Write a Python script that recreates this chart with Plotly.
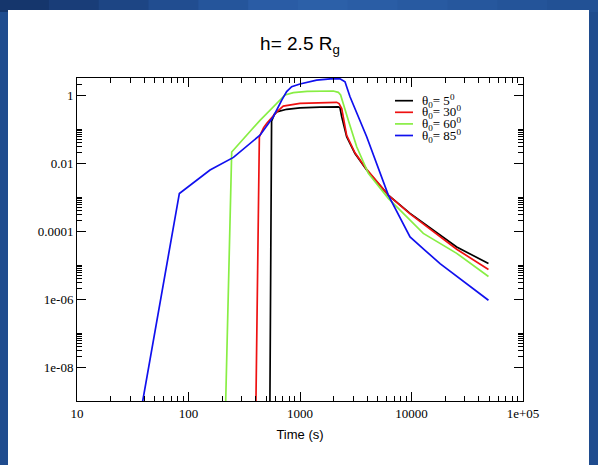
import plotly.graph_objects as go

# ---- data ----
t_5 = [535, 556, 589, 619, 760, 1000, 1515, 2205, 2283, 2367, 2621, 3112, 3964, 6194, 9703, 15700, 25440, 49000]
f_5 = [1e-10, 0.17, 0.27, 0.32, 0.38, 0.42, 0.44, 0.45, 0.42, 0.23, 0.059, 0.019, 6.2e-3, 1.14e-3, 3.3e-4, 1.06e-4, 3.4e-5, 1.1e-5]

t_30 = [399, 432, 472, 504, 619, 708, 1000, 1515, 2132, 2240, 2367, 2621, 3112, 3964, 6194, 9703, 15700, 25440, 49000]
f_30 = [1e-10, 0.059, 0.11, 0.147, 0.32, 0.47, 0.57, 0.60, 0.61, 0.56, 0.40, 0.065, 0.02, 6.5e-3, 1.14e-3, 3.2e-4, 9.5e-5, 2.9e-5, 7.4e-6]

t_60 = [212, 244, 438, 734, 872, 1156, 1990, 2205, 2313, 2447, 2712, 3224, 4102, 6194, 9703, 12760, 25440, 49000]
f_60 = [1e-10, 0.021, 0.18, 1.0, 1.17, 1.28, 1.31, 1.2, 1.0, 0.57, 0.18, 0.030, 5.0e-3, 9.1e-4, 2.1e-4, 8.5e-5, 2.2e-5, 4.6e-6]

t_85 = [34.3, 82.8, 156, 253, 438, 576, 686, 759, 842, 1000, 1410, 1990, 2283, 2533, 2809, 3964, 6194, 9703, 13220, 18030, 49000]
f_85 = [1e-10, 1.27e-3, 6.2e-3, 0.0146, 0.066, 0.23, 0.71, 1.26, 1.76, 2.1, 2.75, 3.05, 3.0, 2.46, 0.89, 0.059, 1.14e-3, 6.7e-5, 2.7e-5, 1.1e-5, 9.2e-7]

legend_labels = ["θ<sub>0</sub>= 5<sup>0</sup>", "θ<sub>0</sub>= 30<sup>0</sup>",
                 "θ<sub>0</sub>= 60<sup>0</sup>", "θ<sub>0</sub>= 85<sup>0</sup>"]
line_colors = ["#000000", "#ee1111", "#88ee44", "#1010ee"]

x_tickvals = [10, 100, 1000, 10000, 100000]
x_ticktext = ["10", "100", "1000", "10000", "1e+05"]
y_tickvals = [1e-8, 1e-6, 1e-4, 1e-2, 1]
y_ticktext = ["1e-08", "1e-06", "0.0001", "0.01", "1"]

series = [(t_5, f_5), (t_30, f_30), (t_60, f_60), (t_85, f_85)]

fig = go.Figure()
for (tx, fy), name, col in zip(series, legend_labels, line_colors):
    fig.add_trace(go.Scatter(x=tx, y=fy, mode="lines", name=name,
                             line=dict(color=col, width=1.7), showlegend=False))

x_minor = [m * 10 ** k for k in range(1, 5) for m in range(2, 10)]
y_minor = [m * 10.0 ** k for k in range(-8, 1, 2) for m in range(2, 11)]

W, H = 598, 465
ml, mr, mt, mb = 77, 75, 78, 64
pw, ph = W - ml - mr, H - mt - mb

def px2x(px):
    return (px - ml) / pw

def py2y(py):
    return (H - mb - py) / ph

# slide frame: blue border, white page
shapes = []
top_cols = ["#15366c", "#193d78", "#1d4584", "#214d90", "#25559b", "#2a5ca5",
            "#2c60a8", "#2a5da5", "#285aa1", "#26579d", "#245499", "#225195"]
seg = W / len(top_cols)
for i, c in enumerate(top_cols):
    shapes.append(dict(type="rect", xref="paper", yref="paper", layer="below",
                       x0=px2x(i * seg - 1), x1=px2x((i + 1) * seg + 1),
                       y0=py2y(12), y1=py2y(-2), fillcolor=c, line=dict(width=0)))
shapes.append(dict(type="rect", xref="paper", yref="paper", layer="below",
                   x0=px2x(8), x1=px2x(589), y0=py2y(475), y1=py2y(10),
                   fillcolor="white", line=dict(width=0)))

annotations = []
row0, step = 100.7, 11.6
for i, (name, col) in enumerate(zip(legend_labels, line_colors)):
    yy = py2y(row0 + i * step)
    shapes.append(dict(type="line", xref="paper", yref="paper",
                       x0=px2x(395), x1=px2x(413), y0=yy, y1=yy,
                       line=dict(color=col, width=1.7)))
    annotations.append(dict(text=name, xref="paper", yref="paper", x=px2x(420), y=yy,
                            xanchor="left", yanchor="middle", showarrow=False,
                            font=dict(family="Liberation Serif", size=13, color="black")))

axis_common = dict(type="log", showline=True, linecolor="black", linewidth=1, mirror="ticks",
                   ticks="inside", ticklen=9, tickwidth=1, tickcolor="black",
                   showgrid=False, zeroline=False,
                   tickfont=dict(family="Liberation Serif", size=13, color="black"))

fig.update_layout(
    width=W, height=H, autosize=False,
    margin=dict(l=ml, r=mr, t=mt, b=mb),
    paper_bgcolor="#1f4c8e", plot_bgcolor="white",
    title=dict(text="h= 2.5 R<sub>g</sub>", x=0.5, xref="paper", xanchor="center",
               y=1 - 43 / H, yref="container", yanchor="middle",
               font=dict(family="Liberation Sans", size=19, color="black")),
    xaxis=dict(range=[1, 5], tickmode="array", tickvals=x_tickvals, ticktext=x_ticktext,
               minor=dict(tickmode="array", tickvals=x_minor, ticks="inside", ticklen=5,
                          tickcolor="black", tickwidth=1, showgrid=False),
               title=dict(text="Time (s)", standoff=10,
                          font=dict(family="Liberation Sans", size=13, color="black")),
               **axis_common),
    yaxis=dict(range=[-9, 0.5], tickmode="array", tickvals=y_tickvals, ticktext=y_ticktext,
               minor=dict(tickmode="array", tickvals=y_minor, ticks="inside", ticklen=5,
                          tickcolor="black", tickwidth=1, showgrid=False),
               **axis_common),
    shapes=shapes, annotations=annotations, showlegend=False,
)

fig.write_html("out.html", config=dict(displayModeBar=False),
               post_script="document.body.style.margin='0';document.body.style.padding='0';")
